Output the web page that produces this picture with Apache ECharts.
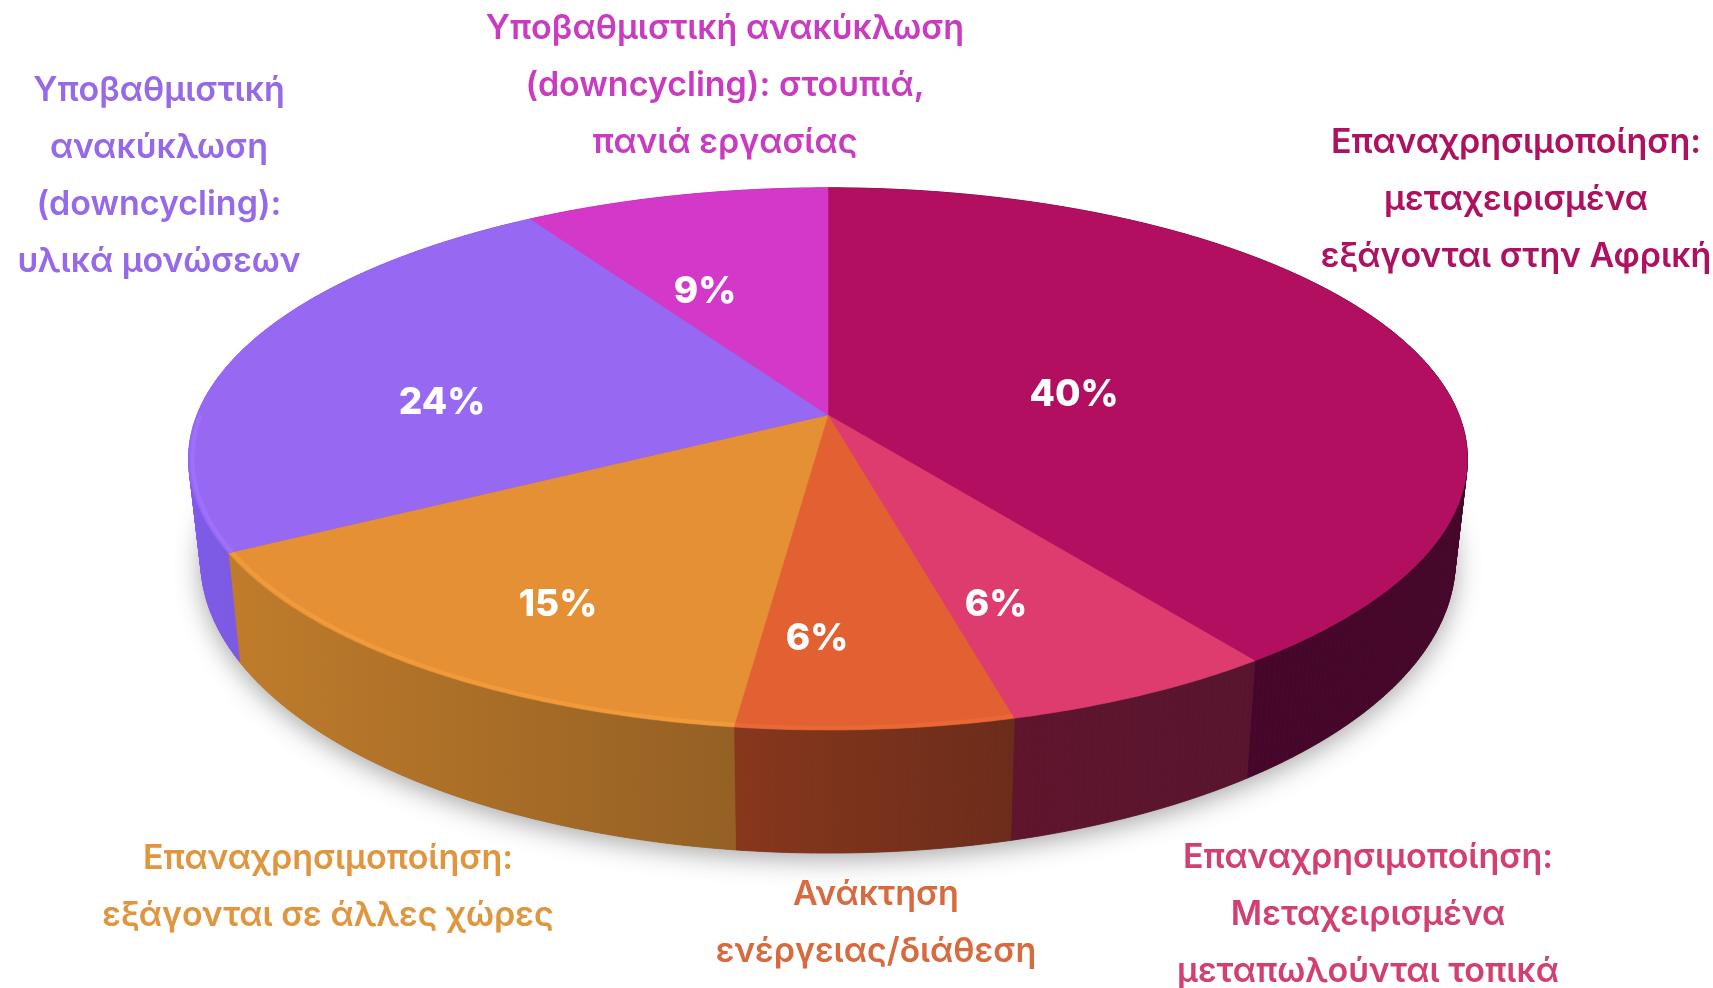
<!DOCTYPE html>
<html>
<head>
<meta charset="utf-8">
<script src="https://cdn.jsdelivr.net/npm/echarts@6/dist/echarts.min.js"></script>
<style>
html,body{margin:0;padding:0;background:#fff;}
#main{width:1713px;height:988px;}
</style>
</head>
<body>
<div id="main"></div>
<script>
// clockwise from 12 o'clock
var categories = [
	'Επαναχρησιμοποίηση:\nμεταχειρισμένα\nεξάγονται στην Αφρική',
	'Επαναχρησιμοποίηση:\nΜεταχειρισμένα\nμεταπωλούνται τοπικά',
	'Ανάκτηση\nενέργειας/διάθεση',
	'Επαναχρησιμοποίηση:\nεξάγονται σε άλλες χώρες',
	'Υποβαθμιστική\nανακύκλωση\n(downcycling):\nυλικά μονώσεων',
	'Υποβαθμιστική ανακύκλωση\n(downcycling): στουπιά,\nπανιά εργασίας'
];
var values = [40, 6, 6, 15, 24, 9];

var topColors = ['#b30f60', '#de3b6e', '#e36033', '#e59034', '#9769f2', '#d338c9'];
var rimColors = [null, null, '#e96835', '#f09a3b', '#9e70fb', null];
var sideLeft = ['#45062a', '#5f152c', '#87371c', '#c07c2a', '#7e5be8', '#a02a98'];
var sideRight = ['#45062a', '#58142e', '#6c2c1a', '#946024', '#7450d8', '#a02a98'];
var labelColors = ['#ae1160', '#d2406f', '#d86a40', '#e0963e', '#9569e8', '#c93bc0'];

var percentPos = [[1074, 395], [996, 605], [817, 639], [558, 605], [442, 403], [705, 292]];
var labelPos = [[1516, 200], [1368, 915], [876, 923], [328, 887], [159, 176], [725, 86]];

var CX = 828;
var topFace = {cy: 415, rx: 631, ry: 264};
var bottomFace = {cy: 513, rx: 619, ry: 285};
var PERSP = 0.162;
var FONT = 'Inter, "Open Sans", sans-serif';

var total = values.reduce(function (a, b) { return a + b; }, 0);

function startAngle(idx) {
	var s = 0;
	for (var i = 0; i < idx; i++) s += values[i];
	return s / total * Math.PI * 2;
}

// project a point of the flat disc onto the tilted face
function project(face, angle, r) {
	var u = r * Math.sin(angle);
	var v = -r * Math.cos(angle);
	var w = 1 - PERSP * v;
	return [CX + face.rx * u / w, face.cy + face.ry * v / w];
}

function arcPoints(face, a0, a1, r) {
	var n = Math.max(2, Math.ceil((a1 - a0) / 0.01));
	var pts = [];
	for (var i = 0; i <= n; i++) {
		pts.push(project(face, a0 + (a1 - a0) * i / n, r));
	}
	return pts;
}

function renderShadow() {
	return {
		type: 'polygon',
		shape: {points: arcPoints(bottomFace, 0, Math.PI * 2, 1)},
		style: {fill: '#777', shadowBlur: 26, shadowColor: 'rgba(60,60,60,0.45)', shadowOffsetY: 6}
	};
}

// the side is built from thin quads, a single outline would leave a notch
// where the top edge turns away at the far left and far right
function renderSide(params, api) {
	var i = params.dataIndex;
	var a0 = startAngle(i);
	var a1 = a0 + api.value(0) / total * Math.PI * 2;
	var upper = arcPoints(topFace, a0, a1, 1);
	var lower = arcPoints(bottomFace, a0, a1, 1);
	var xs = upper.concat(lower).map(function (p) { return p[0]; });
	var grad = new echarts.graphic.LinearGradient(Math.min.apply(null, xs), 0, Math.max.apply(null, xs), 0, [
		{offset: 0, color: sideLeft[i]},
		{offset: 1, color: sideRight[i]}
	], true);
	var children = [];
	for (var k = 0; k < upper.length - 1; k++) {
		children.push({
			type: 'polygon',
			shape: {points: [upper[k], upper[k + 1], lower[k + 1], lower[k]]},
			style: {fill: grad, stroke: grad, lineWidth: 0.8}
		});
	}
	return {type: 'group', children: children};
}

function renderTop(params, api) {
	var i = params.dataIndex;
	var a0 = startAngle(i);
	var a1 = a0 + api.value(0) / total * Math.PI * 2;
	// apex: the disc centre seen through the perspective
	var pts = [project(topFace, 0, 0)].concat(arcPoints(topFace, a0, a1, 1));
	var frontFrom = Math.max(a0, Math.PI * 0.5);
	var frontTo = Math.min(a1, Math.PI * 1.5);
	var children = [{
		type: 'polygon',
		shape: {points: pts},
		style: {fill: topColors[i], stroke: topColors[i], lineWidth: 0.5}
	}];
	if (rimColors[i] && frontTo > frontFrom) {
		children.push({
			type: 'polyline',
			shape: {points: arcPoints(topFace, frontFrom, frontTo, 0.994)},
			style: {fill: null, stroke: rimColors[i], lineWidth: 4}
		});
	}
	return {type: 'group', children: children};
}

function renderLabels(params, api) {
	var i = params.dataIndex;
	return {
		type: 'group',
		children: [{
			type: 'text',
			style: {
				text: api.value(0) + '%',
				x: percentPos[i][0],
				y: percentPos[i][1],
				align: 'center',
				verticalAlign: 'middle',
				fill: '#fff',
				font: '800 37px ' + FONT
			}
		}, {
			type: 'text',
			style: {
				text: categories[i],
				x: labelPos[i][0],
				y: labelPos[i][1],
				align: 'center',
				verticalAlign: 'middle',
				lineHeight: 57,
				fill: labelColors[i],
				font: '600 34px ' + FONT
			}
		}]
	};
}

var chart = echarts.init(document.getElementById('main'));
chart.setOption({
	backgroundColor: '#fff',
	animation: false,
	series: [
		{type: 'custom', coordinateSystem: 'none', silent: true, z: 1, data: [total], renderItem: renderShadow},
		{type: 'custom', coordinateSystem: 'none', silent: true, z: 2, data: values, renderItem: renderSide},
		{type: 'custom', coordinateSystem: 'none', silent: true, z: 3, data: values, renderItem: renderTop},
		{type: 'custom', coordinateSystem: 'none', silent: true, z: 4, data: values, renderItem: renderLabels}
	]
});
</script>
</body>
</html>
